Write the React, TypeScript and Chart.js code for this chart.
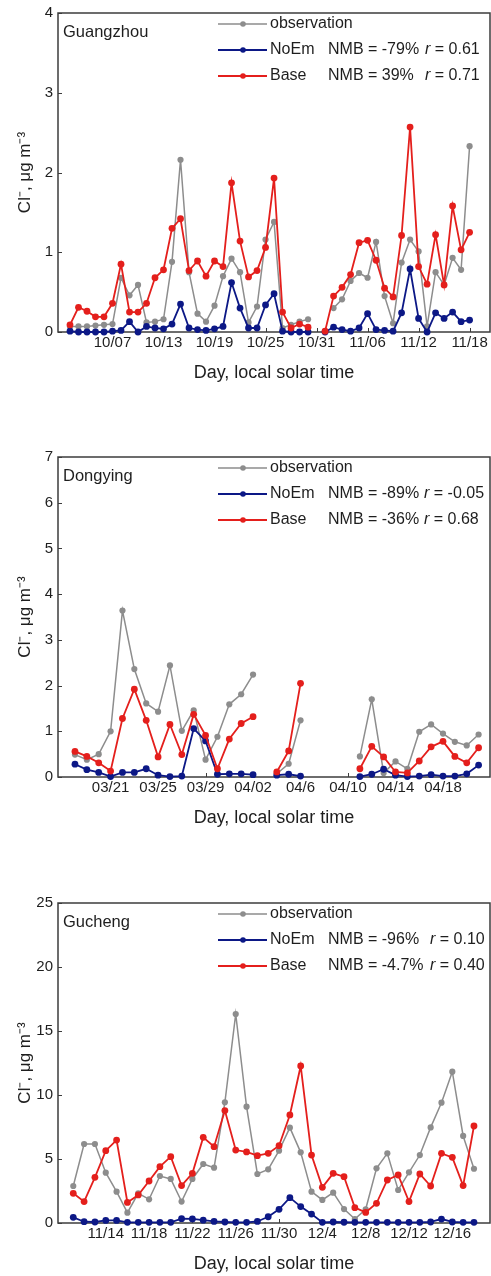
import React, { useEffect, useRef } from "react";
import { Chart, registerables } from "chart.js";
Chart.register(...registerables);

// ---------------- data ----------------
// Guangzhou: daily from 10/02 (index 0) to 11/18 (index 47)
const gzObs = [0.07, 0.07, 0.07, 0.08, 0.09, 0.1, 0.68, 0.46, 0.59, 0.12, 0.13, 0.16, 0.88, 2.16, 0.75, 0.23, 0.13, 0.33, 0.7, 0.92, 0.75, 0.12, 0.32, 1.16, 1.38, 0.05, 0.09, 0.13, 0.16, null, null, 0.3, 0.41, 0.64, 0.74, 0.68, 1.13, 0.45, 0.11, 0.87, 1.16, 1.01, 0.07, 0.75, 0.59, 0.93, 0.78, 2.33];
const gzNoEm = [0.01, 0.0, 0.0, 0.0, 0.0, 0.01, 0.02, 0.13, 0.0, 0.07, 0.05, 0.04, 0.1, 0.35, 0.05, 0.03, 0.02, 0.04, 0.07, 0.62, 0.3, 0.05, 0.05, 0.34, 0.48, 0.01, 0.0, 0.0, 0.0, null, 0.0, 0.06, 0.03, 0.01, 0.05, 0.23, 0.03, 0.02, 0.01, 0.24, 0.79, 0.17, 0.0, 0.24, 0.17, 0.25, 0.13, 0.15];
const gzBase = [0.09, 0.31, 0.26, 0.19, 0.19, 0.36, 0.85, 0.25, 0.25, 0.36, 0.68, 0.78, 1.3, 1.42, 0.77, 0.89, 0.7, 0.89, 0.82, 1.87, 1.14, 0.69, 0.77, 1.06, 1.93, 0.25, 0.05, 0.1, 0.06, null, 0.01, 0.45, 0.56, 0.72, 1.12, 1.15, 0.9, 0.55, 0.44, 1.21, 2.57, 0.82, 0.6, 1.22, 0.59, 1.58, 1.03, 1.25];
const gzTickIdx = [5, 11, 17, 23, 29, 35, 41, 47];
const gzTickLabels = ["10/07", "10/13", "10/19", "10/25", "10/31", "11/06", "11/12", "11/18"];

// Dongying: daily from 03/18 (index 0) to 04/21 (index 34)
const dyObs = [0.49, 0.38, 0.5, 1.0, 3.64, 2.36, 1.61, 1.43, 2.44, 1.01, 1.46, 0.38, 0.88, 1.59, 1.81, 2.24, null, 0.07, 0.29, 1.24, null, null, null, null, 0.45, 1.7, 0.09, 0.34, 0.18, 0.99, 1.15, 0.95, 0.77, 0.69, 0.93];
const dyNoEm = [0.28, 0.16, 0.1, 0.01, 0.1, 0.1, 0.18, 0.04, 0.01, 0.02, 1.06, 0.79, 0.06, 0.07, 0.07, 0.05, null, 0.04, 0.06, 0.02, null, null, null, null, 0.01, 0.06, 0.17, 0.04, 0.01, 0.02, 0.05, 0.02, 0.02, 0.07, 0.26];
const dyBase = [0.56, 0.45, 0.31, 0.13, 1.28, 1.92, 1.24, 0.44, 1.15, 0.49, 1.37, 0.91, 0.18, 0.83, 1.17, 1.32, null, 0.11, 0.57, 2.05, null, null, null, null, 0.18, 0.67, 0.44, 0.11, 0.09, 0.35, 0.66, 0.78, 0.45, 0.31, 0.64];
const dyTickIdx = [3, 7, 11, 15, 19, 23, 27, 31];
const dyTickLabels = ["03/21", "03/25", "03/29", "04/02", "04/6", "04/10", "04/14", "04/18"];

// Gucheng: daily from 11/11 (index 0) to 12/18 (index 37)
const gcObs = [2.89, 6.17, 6.17, 3.93, 2.45, 0.81, 2.32, 1.85, 3.67, 3.44, 1.67, 3.44, 4.61, 4.32, 9.43, 16.33, 9.09, 3.83, 4.19, 5.65, 7.45, 5.52, 2.45, 1.8, 2.37, 1.09, 0.31, 1.07, 4.27, 5.44, 2.58, 3.96, 5.31, 7.47, 9.4, 11.82, 6.8, 4.24];
const gcNoEm = [0.44, 0.1, 0.08, 0.2, 0.2, 0.05, 0.05, 0.05, 0.05, 0.05, 0.34, 0.32, 0.22, 0.12, 0.08, 0.05, 0.05, 0.12, 0.49, 1.07, 1.98, 1.28, 0.7, 0.05, 0.08, 0.06, 0.05, 0.05, 0.05, 0.05, 0.05, 0.05, 0.05, 0.08, 0.31, 0.08, 0.05, 0.05];
const gcBase = [2.32, 1.67, 3.57, 5.65, 6.48, 1.61, 2.19, 3.28, 4.4, 5.18, 2.92, 3.88, 6.69, 5.96, 8.78, 5.7, 5.55, 5.26, 5.44, 6.04, 8.44, 12.27, 5.31, 2.79, 3.88, 3.62, 1.2, 0.83, 1.54, 3.36, 3.75, 1.67, 3.83, 2.89, 5.44, 5.13, 2.92, 7.58];
const gcTickIdx = [3, 7, 11, 15, 19, 23, 27, 31, 35];
const gcTickLabels = ["11/14", "11/18", "11/22", "11/26", "11/30", "12/4", "12/8", "12/12", "12/16"];

const stations = ["Guangzhou", "Dongying", "Gucheng"];
const noEmStats = [["-79%", "0.61"], ["-89%", "-0.05"], ["-96%", "0.10"]];
const baseStats = [["39%", "0.71"], ["-36%", "0.68"], ["-4.7%", "0.40"]];

// ---------------- styling / layout ----------------
const FONT = '"Liberation Sans", Arial, Helvetica, sans-serif';
const GRAY = "#8d8d8d";
const BLUE = "#0c1886";
const RED = "#e41f1c";
const TXT = "#1e1e1e";
const W = 491;
const CW = 494; // canvas width (extra clipped by wrapper)

type PanelCfg = {
  name: string;
  obs: (number | null)[];
  noem: (number | null)[];
  base: (number | null)[];
  tickIdx: number[];
  tickLabels: string[];
  xMin: number;
  xMax: number;
  yMax: number;
  yStep: number;
  top: number;
  height: number;
  plotTop: number;
  plotBottom: number;
  noemStat: string[];
  baseStat: string[];
  rX: number;
};

const panels: PanelCfg[] = [
  { name: stations[0], obs: gzObs, noem: gzNoEm, base: gzBase, tickIdx: gzTickIdx, tickLabels: gzTickLabels, xMin: -1.41, xMax: 49.4, yMax: 4, yStep: 1, top: 0, height: 400, plotTop: 13, plotBottom: 332, noemStat: noEmStats[0], baseStat: baseStats[0], rX: 425 },
  { name: stations[1], obs: dyObs, noem: dyNoEm, base: dyBase, tickIdx: dyTickIdx, tickLabels: dyTickLabels, xMin: -1.43, xMax: 34.96, yMax: 7, yStep: 1, top: 430, height: 420, plotTop: 457, plotBottom: 777, noemStat: noEmStats[1], baseStat: baseStats[1], rX: 424 },
  { name: stations[2], obs: gcObs, noem: gcNoEm, base: gcBase, tickIdx: gcTickIdx, tickLabels: gcTickLabels, xMin: -1.41, xMax: 38.48, yMax: 25, yStep: 5, top: 870, height: 406, plotTop: 903, plotBottom: 1223, noemStat: noEmStats[2], baseStat: baseStats[2], rX: 430 },
];

function makeDataset(label: string, vals: (number | null)[], color: string, radius: number, width: number, order: number) {
  return {
    label,
    data: vals.map((v, i) => ({ x: i, y: v })),
    borderColor: color,
    backgroundColor: color,
    pointBackgroundColor: color,
    pointBorderColor: color,
    pointBorderWidth: 0,
    pointRadius: radius,
    borderWidth: width,
    tension: 0,
    spanGaps: false,
    clip: false as any,
    order,
  };
}

function decorPlugin(p: PanelCfg) {
  return {
    id: "decor",
    beforeDatasetsDraw(chart: any) {
      const { ctx, chartArea: a, scales } = chart;
      ctx.save();
      ctx.strokeStyle = "#3c3c3c";
      ctx.lineWidth = 1.5;
      ctx.strokeRect(a.left, a.top, a.right - a.left, a.bottom - a.top);
      ctx.lineWidth = 1;
      ctx.beginPath();
      scales.x.ticks.forEach((t: any) => {
        const x = Math.round(scales.x.getPixelForValue(t.value)) + 0.5;
        ctx.moveTo(x, a.bottom);
        ctx.lineTo(x, a.bottom - 4);
      });
      scales.y.ticks.forEach((t: any) => {
        const y = Math.round(scales.y.getPixelForValue(t.value)) + 0.5;
        ctx.moveTo(a.left, y);
        ctx.lineTo(a.left + 4, y);
      });
      ctx.stroke();
      ctx.restore();
    },
    afterDraw(chart: any) {
      const { ctx, chartArea: a } = chart;
      ctx.save();
      ctx.fillStyle = TXT;
      ctx.textBaseline = "middle";
      // station name
      ctx.font = `16.5px ${FONT}`;
      ctx.textAlign = "left";
      ctx.fillText(p.name, a.left + 5, a.top + 19);
      // legend
      const rows = [
        { color: GRAY, name: "observation", stat: null as string[] | null, lw: 1.3 },
        { color: BLUE, name: "NoEm", stat: p.noemStat, lw: 1.8 },
        { color: RED, name: "Base", stat: p.baseStat, lw: 1.8 },
      ];
      rows.forEach((r, k) => {
        const y = a.top + 11 + 26 * k;
        ctx.strokeStyle = r.color;
        ctx.lineWidth = r.lw;
        ctx.beginPath();
        ctx.moveTo(218, y);
        ctx.lineTo(267, y);
        ctx.stroke();
        ctx.fillStyle = r.color;
        ctx.beginPath();
        ctx.arc(243, y, 2.8, 0, Math.PI * 2);
        ctx.fill();
        ctx.fillStyle = TXT;
        ctx.font = `16px ${FONT}`;
        ctx.fillText(r.name, 270, y);
        if (r.stat) {
          ctx.fillText(`NMB = ${r.stat[0]}`, 328, y);
          ctx.font = `italic 16px ${FONT}`;
          ctx.fillText("r", p.rX, y);
          const rw = ctx.measureText("r").width;
          ctx.font = `16px ${FONT}`;
          ctx.fillText(` = ${r.stat[1]}`, p.rX + rw, y);
        }
      });
      // axis titles
      ctx.font = `18px ${FONT}`;
      ctx.textAlign = "center";
      ctx.fillText("Day, local solar time", (a.left + a.right) / 2, a.bottom + 41);
      ctx.save();
      ctx.translate(25, (a.top + a.bottom) / 2);
      ctx.rotate(-Math.PI / 2);
      ctx.font = `17px ${FONT}`;
      ctx.fillText("Cl\u207B, \u03BCg m\u207B\u00B3", 0, 0);
      ctx.restore();
      ctx.restore();
    },
  };
}

function PanelChart({ p }: { p: PanelCfg }) {
  const ref = useRef<HTMLCanvasElement | null>(null);
  useEffect(() => {
    if (!ref.current) return;
    const xAxisH = p.height - (p.plotBottom - p.top);
    const chart = new Chart(ref.current, {
      type: "line",
      data: {
        datasets: [
          makeDataset("Base", p.base, RED, 3.4, 1.8, 0),
          makeDataset("NoEm", p.noem, BLUE, 3.4, 1.8, 1),
          makeDataset("observation", p.obs, GRAY, 3.1, 1.5, 2),
        ] as any,
      },
      options: {
        responsive: false,
        animation: false,
        events: [],
        layout: { padding: { top: p.plotTop - p.top, right: CW - 490 - 3, left: 0, bottom: 0 } },
        plugins: { legend: { display: false }, tooltip: { enabled: false }, title: { display: false } },
        scales: {
          x: {
            type: "linear",
            min: p.xMin,
            max: p.xMax,
            grid: { display: false, drawTicks: false },
            border: { display: false },
            ticks: {
              autoSkip: false,
              maxRotation: 0,
              minRotation: 0,
              padding: 2,
              color: TXT,
              font: { family: FONT, size: 15 },
              callback: (_v: any, i: number) => p.tickLabels[i],
            },
            afterBuildTicks: (s: any) => {
              s.ticks = p.tickIdx.map((v) => ({ value: v }));
            },
            afterFit: (s: any) => {
              s.height = xAxisH;
              s.paddingLeft = 0;
              s.paddingRight = 0;
            },
          },
          y: {
            type: "linear",
            min: 0,
            max: p.yMax,
            grid: { display: false, drawTicks: false },
            border: { display: false },
            ticks: {
              stepSize: p.yStep,
              padding: 5,
              color: TXT,
              font: { family: FONT, size: 15 },
            },
            afterFit: (s: any) => {
              s.width = 58;
              s.paddingTop = 0;
              s.paddingBottom = 0;
            },
          },
        },
      } as any,
      plugins: [decorPlugin(p)],
    });
    return () => chart.destroy();
  }, [p]);
  return (
    <canvas
      ref={ref}
      width={CW}
      height={p.height}
      style={{ position: "absolute", left: 0, top: p.top, width: CW, height: p.height, display: "block" }}
    />
  );
}

export default function App() {
  return (
    <div style={{ position: "absolute", left: 0, top: 0, width: W, height: 1276, background: "#fff", overflow: "hidden" }}>
      {panels.map((p) => (
        <PanelChart key={p.name} p={p} />
      ))}
    </div>
  );
}
